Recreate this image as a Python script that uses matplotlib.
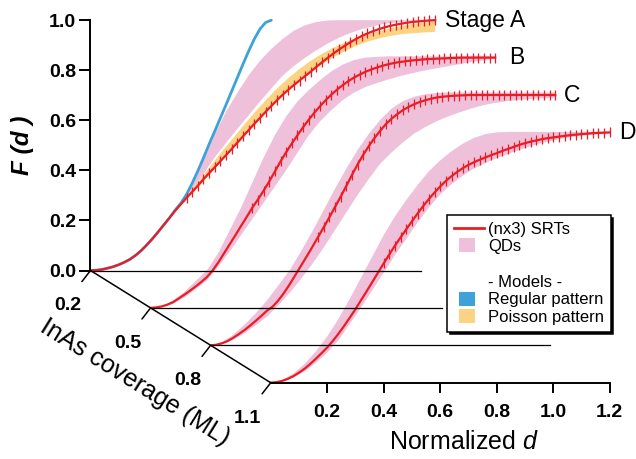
import numpy as np
import matplotlib
matplotlib.use('Agg')
import matplotlib.pyplot as plt
import matplotlib.transforms as mtransforms
import matplotlib.patches as mpatches
from matplotlib.lines import Line2D
from matplotlib.legend_handler import HandlerPatch

plt.rcParams['font.family'] = ['Liberation Sans', 'DejaVu Sans']
plt.rcParams['mathtext.fontset'] = 'custom'
plt.rcParams['mathtext.rm'] = 'Liberation Sans'
plt.rcParams['mathtext.it'] = 'Liberation Sans:italic'

# --- data -------------------------------------------------------------
stage_names = ['Stage A', 'B', 'C', 'D']
coverage = [0.2, 0.5, 0.8, 1.1]          # InAs coverage (ML)

# sample positions (normalized d) of the SRT curves and of the QD bands
d_srt = np.round(np.arange(62) * 0.02, 2)                       # 0 .. 1.22
d_band = np.round(np.append(np.arange(0, 1.21, 0.04), 1.22), 2)  # 0 .. 1.22

# (nx3) SRTs, F(d)
srt_a = [0.000, 0.001, 0.004, 0.009, 0.015, 0.023, 0.033, 0.045, 0.061, 0.080,
         0.103, 0.128, 0.155, 0.183, 0.211, 0.239, 0.265, 0.290, 0.314, 0.339,
         0.365, 0.389, 0.413, 0.437, 0.461, 0.486, 0.511, 0.536, 0.561, 0.586,
         0.610, 0.634, 0.657, 0.680, 0.702, 0.722, 0.741, 0.759, 0.777, 0.795,
         0.814, 0.832, 0.850, 0.867, 0.883, 0.898, 0.912, 0.925, 0.937, 0.947,
         0.956, 0.964, 0.971, 0.977, 0.982, 0.986, 0.990, 0.993, 0.995, 0.997,
         0.999, 1.000]
srt_b = [0.000, 0.002, 0.006, 0.013, 0.023, 0.038, 0.053, 0.069, 0.086, 0.104,
         0.124, 0.150, 0.182, 0.218, 0.254, 0.290, 0.327, 0.363, 0.400, 0.433,
         0.468, 0.505, 0.545, 0.585, 0.622, 0.657, 0.690, 0.722, 0.752, 0.780,
         0.806, 0.830, 0.852, 0.872, 0.890, 0.906, 0.920, 0.932, 0.943, 0.952,
         0.960, 0.967, 0.973, 0.978, 0.982, 0.985, 0.988, 0.990, 0.992, 0.994,
         0.995, 0.996, 0.997, 0.998, 0.999, 1.000, 1.000, 1.000, 1.000, 1.000,
         1.000, 1.000]
srt_c = [0.000, 0.002, 0.008, 0.017, 0.030, 0.045, 0.061, 0.079, 0.098, 0.118,
         0.139, 0.155, 0.180, 0.210, 0.244, 0.281, 0.318, 0.355, 0.393, 0.432,
         0.471, 0.511, 0.552, 0.593, 0.636, 0.680, 0.722, 0.761, 0.796, 0.828,
         0.857, 0.883, 0.905, 0.923, 0.939, 0.952, 0.963, 0.972, 0.979, 0.985,
         0.990, 0.993, 0.995, 0.997, 0.998, 0.999, 1.000, 1.000, 1.000, 1.000,
         1.000, 1.000, 1.000, 1.000, 1.000, 1.000, 1.000, 1.000, 1.000, 1.000,
         1.000, 1.000]
srt_d = [0.000, 0.002, 0.007, 0.015, 0.026, 0.040, 0.056, 0.075, 0.096, 0.118,
         0.141, 0.167, 0.196, 0.227, 0.260, 0.294, 0.330, 0.366, 0.403, 0.440,
         0.477, 0.513, 0.548, 0.581, 0.613, 0.645, 0.676, 0.706, 0.734, 0.760,
         0.784, 0.806, 0.825, 0.842, 0.857, 0.870, 0.881, 0.891, 0.900, 0.909,
         0.917, 0.926, 0.934, 0.942, 0.950, 0.957, 0.963, 0.968, 0.973, 0.977,
         0.980, 0.983, 0.986, 0.989, 0.991, 0.993, 0.995, 0.997, 0.998, 0.999,
         1.000]
srt_err = 0.02
srt_err_from = [0.34, 0.36, 0.38, 0.40]   # error bars shown from this d on

# QDs (spread of measured F(d))
qd_a_lo = [0.211, 0.268, 0.322, 0.385, 0.452, 0.510, 0.566, 0.620, 0.675, 0.727,
           0.778, 0.817, 0.850, 0.880, 0.907, 0.930, 0.949, 0.964, 0.976, 0.985,
           0.991, 0.995, 0.998, 1.000, 1.000]
qd_a_hi = [0.213, 0.272, 0.340, 0.440, 0.545, 0.635, 0.710, 0.780, 0.838, 0.885,
           0.925, 0.958, 0.980, 0.993, 0.999, 1.000, 1.000, 1.000, 1.000, 1.000,
           1.000, 1.000, 1.000, 1.000, 1.000]
qd_b_lo = [0.000, 0.004, 0.017, 0.042, 0.075, 0.110, 0.165, 0.225, 0.290, 0.355,
           0.420, 0.485, 0.550, 0.620, 0.690, 0.745, 0.790, 0.830, 0.860, 0.882,
           0.898, 0.912, 0.925, 0.936, 0.946, 0.955, 0.963, 0.971, 0.979, 0.986,
           0.993, 0.997]
qd_b_hi = [0.000, 0.008, 0.030, 0.064, 0.108, 0.150, 0.220, 0.310, 0.400, 0.500,
           0.600, 0.690, 0.765, 0.825, 0.870, 0.910, 0.945, 0.972, 0.990, 1.000,
           1.003, 1.005, 1.005, 1.005, 1.005, 1.005, 1.005, 1.005, 1.005, 1.005,
           1.005, 1.005]
qd_c_lo = [0.000, 0.005, 0.022, 0.048, 0.080, 0.115, 0.160, 0.210, 0.265, 0.325,
           0.390, 0.460, 0.530, 0.600, 0.665, 0.725, 0.770, 0.810, 0.845, 0.872,
           0.895, 0.914, 0.930, 0.945, 0.958, 0.967, 0.974, 0.979, 0.983, 0.986,
           0.988, 0.989]
qd_c_hi = [0.000, 0.012, 0.042, 0.082, 0.128, 0.180, 0.240, 0.300, 0.375, 0.455,
           0.540, 0.625, 0.705, 0.780, 0.845, 0.900, 0.945, 0.975, 0.993, 1.003,
           1.008, 1.010, 1.010, 1.010, 1.010, 1.010, 1.010, 1.010, 1.010, 1.010,
           1.010, 1.010]
qd_d_lo = [0.000, 0.005, 0.020, 0.045, 0.080, 0.120, 0.170, 0.235, 0.300, 0.370,
           0.440, 0.510, 0.575, 0.640, 0.700, 0.752, 0.793, 0.827, 0.856, 0.878,
           0.897, 0.914, 0.930, 0.945, 0.958, 0.968, 0.977, 0.984, 0.989, 0.993,
           0.996]
qd_d_hi = [0.000, 0.010, 0.036, 0.075, 0.125, 0.185, 0.255, 0.335, 0.420, 0.505,
           0.590, 0.665, 0.730, 0.790, 0.845, 0.888, 0.925, 0.955, 0.978, 0.993,
           1.000, 1.002, 1.002, 1.002, 1.002, 1.002, 1.002, 1.002, 1.002, 1.002,
           1.002]

# models (stage A only)
regular = [0.000, 0.001, 0.004, 0.009, 0.015, 0.023, 0.033, 0.045, 0.061, 0.080,
           0.103, 0.128, 0.155, 0.183, 0.211, 0.242, 0.269, 0.304, 0.349, 0.398,
           0.450, 0.505, 0.557, 0.610, 0.663, 0.717, 0.771, 0.825, 0.877, 0.925,
           0.965, 0.991, 1.000]
d_poisson = np.round(np.arange(0.30, 1.23, 0.04), 2)
poisson_lo = [0.236, 0.284, 0.331, 0.381, 0.432, 0.482, 0.532, 0.582, 0.630, 0.676,
              0.718, 0.757, 0.792, 0.824, 0.852, 0.876, 0.897, 0.914, 0.927, 0.937,
              0.944, 0.948, 0.951, 0.953]
poisson_hi = [0.242, 0.300, 0.352, 0.410, 0.468, 0.522, 0.577, 0.630, 0.680, 0.726,
              0.768, 0.805, 0.838, 0.866, 0.890, 0.910, 0.928, 0.943, 0.956, 0.967,
              0.977, 0.985, 0.991, 0.996]

baseline_len = [1.17, 1.03, 1.20, 1.20]   # length of the zero lines drawn per stage
label_d = [1.255, 1.27, 1.25, 1.232]      # where each stage name starts (d)

srt = [srt_a, srt_b, srt_c, srt_d]
qd = [(d_band[7:], qd_a_lo, qd_a_hi), (d_band, qd_b_lo, qd_b_hi),
      (d_band, qd_c_lo, qd_c_hi), (d_band, qd_d_lo, qd_d_hi)]

RED = '#EC1C24'
PINK = '#EFC0DA'
BLUE = '#3DA2DA'
ORANGE = '#FCD283'

# --- layout -----------------------------------------------------------
W, H = 636, 459
PX_D, PX_F = 282.5, 250.3          # pixels per unit of d and of F
X0, Y0 = 90.5, 270.5               # pixel position of stage A origin
SHIFT_X, SHIFT_Y = 60.07 / 0.3, 37.4 / 0.3   # pixel shift per ML of coverage


def offset(cov):
    """offset of a stage plane, in stage-A data units"""
    return (SHIFT_X * (cov - coverage[0]) / PX_D,
            -SHIFT_Y * (cov - coverage[0]) / PX_F)


fig = plt.figure(figsize=(W / 100, H / 100), dpi=100)
ax = fig.add_axes([0, 0, 1, 1])
ax.set_xlim(-X0 / PX_D, (W - X0) / PX_D)
ax.set_ylim((Y0 - H) / PX_F, Y0 / PX_F)

for k, cov in enumerate(coverage):
    ox, oy = offset(cov)
    tr = mtransforms.Affine2D().translate(ox, oy) + ax.transData
    z = 2 + k
    y = np.array(srt[k])
    x = d_srt[:len(y)]

    dq, lo, hi = qd[k]
    ax.fill_between(dq[:len(lo)], lo, hi, facecolor=PINK, edgecolor='none',
                    transform=tr, zorder=z, clip_on=False)
    if k == 0:
        ax.fill_between(d_poisson, poisson_lo, poisson_hi, facecolor=ORANGE,
                        edgecolor='none', transform=tr, zorder=z, clip_on=False)
        ax.plot(d_srt[:len(regular)], regular, color=BLUE, lw=2.0,
                solid_capstyle='round', transform=tr, zorder=z, clip_on=False)
    if k < 3:
        ax.plot([0, baseline_len[k]], [0, 0], color='black', lw=0.9,
                transform=tr, zorder=10, clip_on=False)
    m = x >= srt_err_from[k]
    ax.vlines(x[m], y[m] - srt_err, y[m] + srt_err, color=RED, lw=0.9,
              transform=tr, zorder=z + 0.5, clip_on=False)
    ax.plot(x, y, color=RED, lw=1.6, transform=tr, zorder=z + 0.5,
            clip_on=False)
    ax.text(label_d[k], 1.0, stage_names[k], fontsize=16.5, ha='left',
            va='center', transform=tr, zorder=z + 0.5)

# axes: F(d) on stage A, normalized d on stage D, coverage as the depth axis
for s in ['top', 'right']:
    ax.spines[s].set_visible(False)
oxd, oyd = offset(coverage[-1])
ax.spines['left'].set_position(('data', 0))
ax.spines['left'].set_bounds(0, 1)
ax.spines['bottom'].set_position(('data', oyd))
ax.spines['bottom'].set_bounds(oxd, oxd + 1.2)
for s in ['left', 'bottom']:
    ax.spines[s].set_linewidth(1.4)
    ax.spines[s].set_zorder(10)

fticks = [0.0, 0.2, 0.4, 0.6, 0.8, 1.0]
dticks = [0.2, 0.4, 0.6, 0.8, 1.0, 1.2]
ax.set_yticks(fticks, [f'{v:.1f}' for v in fticks])
ax.set_xticks([oxd + v for v in dticks], [f'{v:.1f}' for v in dticks])
ax.tick_params(axis='y', direction='out', length=8, width=1.4, pad=2.5,
               labelsize=14)
ax.tick_params(axis='x', direction='out', length=7.5, width=1.4, pad=7.5,
               labelsize=14)
for lab in ax.get_xticklabels() + ax.get_yticklabels():
    lab.set_fontweight('bold')

oxa, oya = offset(coverage[0])
ax.plot([oxa, oxd], [oya, oyd], color='black', lw=1.1, clip_on=False, zorder=10)
for cov in coverage:
    ox, oy = offset(cov)
    ax.annotate('', xy=(ox, oy), xytext=(-6.2, -8.0), textcoords='offset points',
                arrowprops=dict(arrowstyle='-', lw=1.1, color='black',
                                shrinkA=0, shrinkB=0))
    ax.annotate(f'{cov:.1f}', xy=(ox, oy), xytext=(-16.5, -25.5),
                textcoords='offset points', ha='center', va='center',
                fontsize=14, fontweight='bold')

ang = -np.degrees(np.arctan2(SHIFT_Y, SHIFT_X))
ax.text((135 - X0) / PX_D, (Y0 - 382) / PX_F, 'InAs coverage (ML)',
        fontsize=18, rotation=ang, rotation_mode='anchor',
        ha='center', va='center')
ax.text((22 - X0) / PX_D, (Y0 - 145) / PX_F, 'F (d )', fontsize=17.5,
        fontweight='bold', style='italic', rotation=90,
        ha='center', va='center')
ax.text((464 - X0) / PX_D, (Y0 - 442) / PX_F, r'Normalized $d$', fontsize=18,
        ha='center', va='center')

# legend


def small_box(legend, orig_handle, xdescent, ydescent, width, height, fontsize):
    return mpatches.Rectangle((0.17 * width - xdescent, -ydescent - 0.1 * height),
                              0.55 * width, 1.2 * height)


box = HandlerPatch(patch_func=small_box)
handles = [Line2D([], [], color=RED, lw=2),
           mpatches.Patch(facecolor=PINK, edgecolor='none'),
           mpatches.Patch(facecolor='none', edgecolor='none'),
           mpatches.Patch(facecolor='none', edgecolor='none'),
           mpatches.Patch(facecolor=BLUE, edgecolor='none'),
           mpatches.Patch(facecolor=ORANGE, edgecolor='none')]
labels = ['(nx3) SRTs', 'QDs', ' ', '- Models -', 'Regular pattern',
          'Poisson pattern']
leg = ax.legend(handles, labels, loc='upper left',
                bbox_to_anchor=(447 / W, 1 - 215 / H),
                bbox_transform=fig.transFigure, borderaxespad=0,
                fontsize=12, handlelength=1.8, handletextpad=0.25,
                borderpad=0.4, labelspacing=0.16, fancybox=False,
                framealpha=1, edgecolor='black',
                shadow={'color': 'black', 'alpha': 1},
                handler_map={mpatches.Patch: box})
leg.get_frame().set_linewidth(1.1)
leg.set_zorder(20)

fig.savefig('out.png', dpi=100, facecolor='white')
